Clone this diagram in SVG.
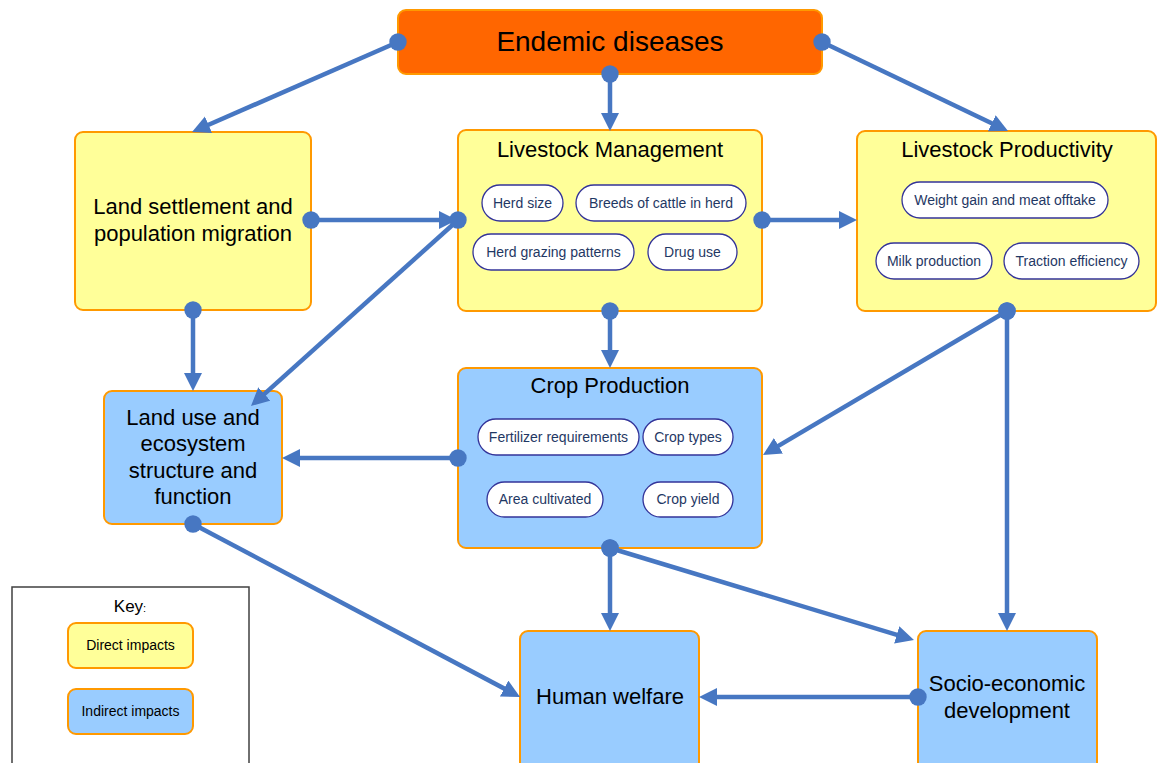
<svg xmlns="http://www.w3.org/2000/svg" width="1157" height="763" viewBox="0 0 1157 763">
<style>
.box{stroke:#FF9900;stroke-width:2}
.direct{fill:#FFFF99}
.indirect{fill:#99CCFF}
.top{fill:#FF6600;stroke:#FF9900;stroke-width:2}
.pill{fill:#FFFFFF;stroke:#333399;stroke-width:1.3}
.t{font-family:"Liberation Sans",Arial,sans-serif;fill:#000;text-anchor:middle}
.big{font-size:22px}
.pt{font-family:"Liberation Sans",Arial,sans-serif;font-size:14px;fill:#1F3864;text-anchor:middle}
.kt{font-family:"Liberation Sans",Arial,sans-serif;font-size:14px;fill:#000;text-anchor:middle}
.c{fill:none;stroke:#4777C2;stroke-width:4.5;marker-start:url(#dot);marker-end:url(#arr)}
.c2{fill:none;stroke:#4777C2;stroke-width:4.5;marker-end:url(#arr)}
</style>
<defs>
<marker id="arr" markerUnits="userSpaceOnUse" markerWidth="20" markerHeight="20" refX="8" refY="9" orient="auto" viewBox="0 0 20 20">
<path d="M0,0 L18,9 L0,18 z" fill="#4777C2"/>
</marker>
<marker id="dot" markerUnits="userSpaceOnUse" markerWidth="20" markerHeight="20" refX="10" refY="10" viewBox="0 0 20 20">
<circle cx="10" cy="10" r="8.7" fill="#4777C2"/>
</marker>
</defs>
<rect width="1157" height="763" fill="#FFFFFF"/>

<g id="key">
<rect x="12" y="587" width="237" height="190" fill="#FFFFFF" stroke="#404040" stroke-width="1.5"/>
<text class="t" x="130" y="612" font-size="17">Key<tspan font-size="11">:</tspan></text>
<rect class="box direct" x="68" y="623" width="125" height="45" rx="8"/>
<text class="kt" x="130.5" y="650">Direct impacts</text>
<rect class="box indirect" x="68" y="689" width="125" height="45" rx="8"/>
<text class="kt" x="130.5" y="716">Indirect impacts</text>
</g>

<g id="endemic">
<rect class="top" x="398" y="10" width="424" height="64" rx="8"/>
<text class="t" x="610" y="51" font-size="28">Endemic diseases</text>
</g>

<g id="land-settlement">
<rect class="box direct" x="75" y="132" width="236" height="178" rx="8"/>
<text class="t big" x="193" y="214">Land settlement and</text>
<text class="t big" x="193" y="241">population migration</text>
</g>

<g id="livestock-management">
<rect class="box direct" x="458" y="130" width="304" height="181" rx="8"/>
<text class="t big" x="610" y="157">Livestock Management</text>
<rect class="pill" x="482" y="185" width="81" height="36" rx="18"/>
<text class="pt" x="522.5" y="208">Herd size</text>
<rect class="pill" x="576" y="185" width="170" height="36" rx="18"/>
<text class="pt" x="661" y="208">Breeds of cattle in herd</text>
<rect class="pill" x="473" y="234" width="161" height="36" rx="18"/>
<text class="pt" x="553.5" y="257">Herd grazing patterns</text>
<rect class="pill" x="648" y="234" width="89" height="36" rx="18"/>
<text class="pt" x="692.5" y="257">Drug use</text>
</g>

<g id="livestock-productivity">
<rect class="box direct" x="857" y="131" width="299" height="180" rx="8"/>
<text class="t big" x="1007" y="157">Livestock Productivity</text>
<rect class="pill" x="902" y="182" width="206" height="36" rx="18"/>
<text class="pt" x="1005" y="205">Weight gain and meat offtake</text>
<rect class="pill" x="876" y="243" width="116" height="36" rx="18"/>
<text class="pt" x="934" y="266">Milk production</text>
<rect class="pill" x="1004" y="243" width="135" height="36" rx="18"/>
<text class="pt" x="1071.5" y="266">Traction efficiency</text>
</g>

<g id="land-use">
<rect class="box indirect" x="104" y="391" width="178" height="133" rx="8"/>
<text class="t big" x="193" y="425">Land use and</text>
<text class="t big" x="193" y="451">ecosystem</text>
<text class="t big" x="193" y="478">structure and</text>
<text class="t big" x="193" y="504">function</text>
</g>

<g id="crop-production">
<rect class="box indirect" x="458" y="368" width="304" height="180" rx="8"/>
<text class="t big" x="610" y="393">Crop Production</text>
<rect class="pill" x="478" y="419" width="161" height="36" rx="18"/>
<text class="pt" x="558.5" y="442">Fertilizer requirements</text>
<rect class="pill" x="643" y="419" width="90" height="36" rx="18"/>
<text class="pt" x="688" y="442">Crop types</text>
<rect class="pill" x="487" y="482" width="116" height="35" rx="17.5"/>
<text class="pt" x="545" y="504">Area cultivated</text>
<rect class="pill" x="643" y="482" width="90" height="35" rx="17.5"/>
<text class="pt" x="688" y="504">Crop yield</text>
</g>

<g id="human-welfare">
<rect class="box indirect" x="520" y="631" width="179" height="150" rx="8"/>
<text class="t big" x="610" y="704">Human welfare</text>
</g>

<g id="socio-economic">
<rect class="box indirect" x="918" y="631" width="179" height="150" rx="8"/>
<text class="t big" x="1007" y="691">Socio-economic</text>
<text class="t big" x="1007" y="718">development</text>
</g>

<g id="connectors">
<path class="c" d="M398,42 L201.2,128"/>
<path class="c" d="M610,74 L610,121"/>
<path class="c" d="M822,42 L999,126.7"/>
<path class="c" d="M311,220 L447,220"/>
<path class="c" d="M458,220 L258.4,399.3"/>
<path class="c" d="M193,310 L193,381"/>
<path class="c" d="M762,220 L847,220"/>
<path class="c" d="M610,311 L610,358"/>
<path class="c" d="M1007,311 L771.6,449.9"/>
<path class="c" d="M1007,311 L1007,621"/>
<path class="c" d="M458,458 L292,458"/>
<path class="c" d="M193,524 L511.2,692.3"/>
<path class="c" d="M610,548 L610,621"/>
<path class="c" d="M610,548 L904.4,637.1"/>
<path class="c" d="M918,697 L709,697"/>
</g>
</svg>
